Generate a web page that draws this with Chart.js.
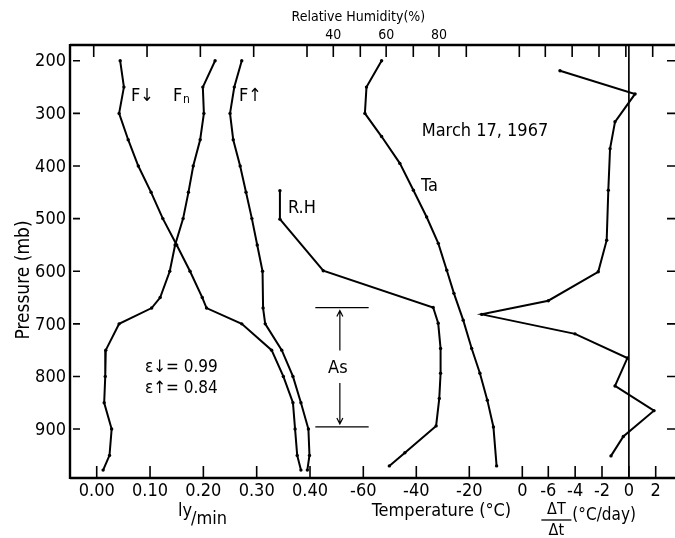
<!DOCTYPE html>
<html>
<head>
<meta charset="utf-8">
<script src="https://cdn.jsdelivr.net/npm/chart.js@4.4.0/dist/chart.umd.min.js"></script>
<style>
html,body{margin:0;padding:0;background:#fff;}
#wrap{width:675px;height:538px;position:relative;}
</style>
</head>
<body>
<div id="wrap"><canvas id="c" width="675" height="538"></canvas></div>
<script>
// ---------- data (pressure levels in mb) ----------
const fDownP = [200, 250, 300, 350, 400, 450, 500, 550, 600, 650, 670, 700, 750, 800, 850, 900, 950, 978];
const fDown  = [0.044, 0.051, 0.042, 0.059, 0.078, 0.102, 0.124, 0.150, 0.175, 0.198, 0.206, 0.272, 0.328, 0.350, 0.368, 0.372, 0.376, 0.383];

const fNetP = [200, 250, 300, 350, 400, 450, 500, 550, 600, 650, 670, 700, 750, 800, 850, 900, 950, 978];
const fNet  = [0.222, 0.199, 0.201, 0.194, 0.181, 0.172, 0.162, 0.147, 0.137, 0.119, 0.103, 0.042, 0.017, 0.016, 0.014, 0.028, 0.024, 0.012];

const fUpP = [200, 250, 300, 350, 400, 450, 500, 550, 600, 670, 700, 750, 800, 850, 900, 950, 978];
const fUp  = [0.272, 0.258, 0.250, 0.256, 0.269, 0.280, 0.291, 0.301, 0.311, 0.312, 0.316, 0.347, 0.368, 0.383, 0.397, 0.399, 0.395];

const rhP = [447, 501, 599, 669, 699, 747, 794, 842, 894, 945, 970];
const rh  = [19.8, 19.8, 36.2, 77.8, 79.7, 80.6, 80.6, 80.1, 78.9, 67.1, 61.2];

const taP = [200, 250, 300, 344, 395, 446, 497, 547, 598, 642, 693, 747, 794, 845, 896, 970];
const ta  = [-53.1, -58.8, -59.4, -53.1, -46.2, -41.1, -36.1, -31.7, -28.5, -25.8, -22.3, -19.1, -16.0, -13.2, -10.9, -9.7];

const dtP = [219, 263, 316, 367, 446, 541, 601, 656, 682, 719, 765, 818, 865, 914, 951];
const dt  = [-5.13, 0.46, -1.03, -1.40, -1.53, -1.65, -2.28, -6.0, -10.96, -4.01, -0.11, -1.03, 1.87, -0.41, -1.33];

// ---------- ticks ----------
const pressureTicks = [200, 300, 400, 500, 600, 700, 800, 900];
const fluxTicks = [0, 0.1, 0.2, 0.3, 0.4];
const fluxTickLabels = ['0.00', '0.10', '0.20', '0.30', '0.40'];
const tempTicks = [-60, -40, -20, 0];
const tempTickLabels = ['-60', '-40', '-20', '0'];
const rateTicks = [-6, -4, -2, 0, 2];
const rateTickLabels = ['-6', '-4', '-2', '0', '2'];
const rhTicks = [40, 60, 80];
const rhTickLabels = ['40', '60', '80'];
const cloudBase = 669, cloudTop = 896;

// ---------- helpers ----------
const FAM = '"DejaVu Sans Condensed","DejaVu Sans",sans-serif';
const font = px => px + 'px ' + FAM;
const pts = (ys, xs) => xs.map((x, i) => ({x: x, y: ys[i]}));

function line(data, axis) {
  return {
    data: data, xAxisID: axis, yAxisID: 'y', showLine: true,
    borderColor: '#000', borderWidth: 2, backgroundColor: '#000',
    pointRadius: 1.7, pointBorderWidth: 0, pointHoverRadius: 0, tension: 0
  };
}

const overlay = {
  id: 'overlay',
  afterDatasetsDraw(chart) {
    const ctx = chart.ctx, a = chart.chartArea, s = chart.scales;
    const Y = v => s.y.getPixelForValue(v);
    ctx.save();
    ctx.strokeStyle = '#000';
    ctx.fillStyle = '#000';
    ctx.lineCap = 'butt';

    // frame
    ctx.lineWidth = 2.4;
    ctx.beginPath();
    ctx.moveTo(a.left, a.top); ctx.lineTo(a.right, a.top);
    ctx.moveTo(a.left, a.top - 1); ctx.lineTo(a.left, a.bottom + 1);
    ctx.moveTo(a.left, a.bottom); ctx.lineTo(a.right, a.bottom);
    ctx.stroke();

    // pressure ticks (left and right) and labels
    ctx.lineWidth = 1.6;
    ctx.font = font(18);
    ctx.textAlign = 'right';
    ctx.textBaseline = 'middle';
    pressureTicks.forEach(p => {
      const y = Y(p);
      ctx.beginPath();
      ctx.moveTo(a.left + 3, y); ctx.lineTo(a.left + 10, y);
      ctx.moveTo(a.right - 8, y); ctx.lineTo(a.right, y);
      ctx.stroke();
      ctx.fillText(String(p), a.left - 4, y + 1);
    });

    // horizontal-axis ticks (bottom upward, top downward)
    const groups = [
      [s.xF, fluxTicks, fluxTickLabels],
      [s.xT, tempTicks, tempTickLabels],
      [s.xD, rateTicks, rateTickLabels]
    ];
    ctx.textAlign = 'center';
    ctx.textBaseline = 'middle';
    ctx.lineWidth = 1.6;
    groups.forEach(([sc, ticks, labels]) => {
      ticks.forEach((v, i) => {
        const x = sc.getPixelForValue(v);
        ctx.beginPath();
        ctx.moveTo(x, a.bottom); ctx.lineTo(x, a.bottom - 12);
        ctx.moveTo(x - 3, a.top); ctx.lineTo(x - 3, a.top + 12);
        ctx.stroke();
        ctx.fillText(labels[i], x, a.bottom + 13);
      });
    });
    // RH ticks on top
    ctx.font = font(14);
    rhTicks.forEach((v, i) => {
      const x = s.xR.getPixelForValue(v);
      ctx.beginPath();
      ctx.moveTo(x, a.top); ctx.lineTo(x, a.top + 12);
      ctx.stroke();
      ctx.fillText(rhTickLabels[i], x, a.top - 10);
    });
    ctx.fillText('Relative Humidity(%)', s.xR.getPixelForValue(49.5), a.top - 28);

    // axis titles
    ctx.font = font(18);
    ctx.textAlign = 'left';
    ctx.fillText('ly', 178, 511);
    ctx.fillText('/min', 191, 519);
    ctx.textAlign = 'center';
    ctx.fillText('Temperature (°C)', s.xT.getPixelForValue(-30.5), 511);
    ctx.font = font(16);
    const fx = s.xD.getPixelForValue(-5.4);
    ctx.fillText('ΔT', fx, 510);
    ctx.fillText('Δt', fx, 531);
    ctx.lineWidth = 1.3;
    ctx.beginPath(); ctx.moveTo(fx - 15, 520); ctx.lineTo(fx + 15, 520); ctx.stroke();
    ctx.font = font(17);
    ctx.textAlign = 'left';
    ctx.fillText('(°C/day)', fx + 16, 516);

    // y title
    ctx.save();
    ctx.translate(24, 280);
    ctx.rotate(-Math.PI / 2);
    ctx.font = font(19);
    ctx.textAlign = 'center';
    ctx.fillText('Pressure (mb)', 0, 0);
    ctx.restore();

    // curve labels
    ctx.font = font(18);
    ctx.textAlign = 'left';
    ctx.fillText('F↓', 131, 96);
    ctx.fillText('F', 173, 96);
    ctx.font = font(12);
    ctx.fillText('n', 183, 100);
    ctx.font = font(18);
    ctx.fillText('F↑', 239, 96);
    ctx.fillText('R.H', 288, 208);
    ctx.fillText('Ta', 421, 186);
    ctx.font = font(17);
    ctx.fillText('ε↓= 0.99', 145, 368);
    ctx.fillText('ε↑= 0.84', 145, 389);
    ctx.font = font(18);
    ctx.textAlign = 'center';
    ctx.fillText('March 17, 1967', 485, 131);

    // altostratus layer marker
    const x1 = s.xF.getPixelForValue(0.41), x2 = s.xF.getPixelForValue(0.51), xm = s.xF.getPixelForValue(0.456);
    const yb = Y(cloudBase), yt = Y(cloudTop);
    ctx.lineWidth = 1.2;
    ctx.beginPath();
    ctx.moveTo(x1, yb); ctx.lineTo(x2, yb);
    ctx.moveTo(x1, yt); ctx.lineTo(x2, yt);
    ctx.moveTo(xm, yb + 3); ctx.lineTo(xm, yb + 43);
    ctx.moveTo(xm, yt - 3); ctx.lineTo(xm, yt - 44);
    ctx.moveTo(xm - 3, yb + 9); ctx.lineTo(xm, yb + 3); ctx.lineTo(xm + 3, yb + 9);
    ctx.moveTo(xm - 3, yt - 9); ctx.lineTo(xm, yt - 3); ctx.lineTo(xm + 3, yt - 9);
    ctx.stroke();
    ctx.fillText('As', xm - 2, (yb + yt) / 2 + 1);

    ctx.restore();
  }
};

new Chart(document.getElementById('c'), {
  type: 'scatter',
  data: {
    datasets: [
      line(pts(fDownP, fDown), 'xF'),
      line(pts(fNetP, fNet), 'xF'),
      line(pts(fUpP, fUp), 'xF'),
      line(pts(rhP, rh), 'xR'),
      line(pts(taP, ta), 'xT'),
      line(pts(dtP, dt), 'xD'),
      Object.assign(line([{x: 0, y: 170}, {x: 0, y: 993}], 'xD'), {borderWidth: 1, pointRadius: 0})
    ]
  },
  options: {
    responsive: false,
    animation: false,
    devicePixelRatio: 1,
    layout: {autoPadding: false, padding: {left: 70, right: 0, top: 45, bottom: 60}},
    plugins: {legend: {display: false}, tooltip: {enabled: false}},
    scales: {
      y:  {type: 'linear', axis: 'y', reverse: true, min: 170, max: 993, display: false},
      xF: {type: 'linear', axis: 'x', min: -0.0501, max: 1.0845, display: false},
      xT: {type: 'linear', axis: 'x', min: -170.68, max: 57.62, display: false},
      xR: {type: 'linear', axis: 'x', min: -59.64, max: 169.31, display: false},
      xD: {type: 'linear', axis: 'x', min: -41.63, max: 3.438, display: false}
    }
  },
  plugins: [overlay]
});
</script>
</body>
</html>
